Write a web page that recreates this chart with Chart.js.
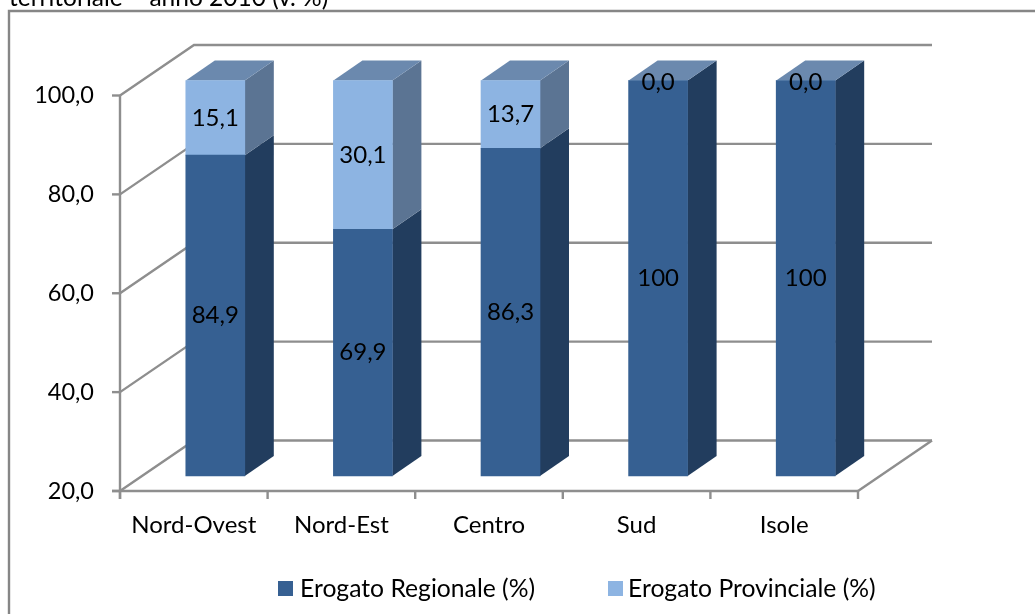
<!DOCTYPE html>
<html><head><meta charset="utf-8">
<style>html,body{margin:0;padding:0;background:#fff;overflow:hidden}canvas{display:block}
#wrap{position:relative;width:1035px;height:614px}</style>
<script src="https://cdn.jsdelivr.net/npm/chart.js@4"></script>
</head><body>
<div id="wrap"><canvas id="c" width="1035" height="614"></canvas></div>
<script>
const categories = ['Nord-Ovest','Nord-Est','Centro','Sud','Isole'];
const regionale = [84.9,69.9,86.3,100,100];
const provinciale = [15.1,30.1,13.7,0,0];
const regionaleLabels = ['84,9','69,9','86,3','100','100'];
const provincialeLabels = ['15,1','30,1','13,7','0,0','0,0'];
const seriesNames = ['Erogato Regionale (%)','Erogato Provinciale (%)'];
const titleText = 'territoriale – anno 2010 (v. %)';
const yTicks = [20,40,60,80,100];

const FONT = 'Lato';
const GRID = '#8e8e8e';
const DX = 21.5, DY = -15;        // front plane of the bars relative to the axis plane
const BX = 74, BY = -50.5;        // back wall relative to the axis plane
const SX = 29, SY = -20;          // bar depth
const faces = [
  {front:'#366092', side:'#223d5e', top:'#6b89ae'},
  {front:'#8db4e2', side:'#5b7493', top:'#6b89ae'}
];

const scene = {
  id:'scene',
  beforeDraw(chart){
    const {ctx, chartArea:a, scales:{x,y}} = chart;
    ctx.save();
    ctx.strokeStyle='#868686'; ctx.lineWidth=2.4;
    ctx.beginPath(); ctx.moveTo(9,616); ctx.lineTo(9,11); ctx.lineTo(1040,11); ctx.stroke();
    ctx.fillStyle='#000'; ctx.font='24.5px '+FONT; ctx.textBaseline='alphabetic'; ctx.textAlign='left';
    ctx.fillText(titleText,9,6);
    ctx.strokeStyle=GRID; ctx.lineWidth=2.4;
    yTicks.forEach(v=>{
      const py=y.getPixelForValue(v);
      ctx.beginPath();
      ctx.moveTo(a.left,py); ctx.lineTo(a.left+BX,py+BY);
      ctx.lineTo(a.right+BX,py+BY); ctx.stroke();
    });
    ctx.beginPath(); ctx.moveTo(a.right,a.bottom); ctx.lineTo(a.right+BX,a.bottom+BY); ctx.stroke();
    ctx.beginPath(); ctx.moveTo(a.left,y.getPixelForValue(100)); ctx.lineTo(a.left,a.bottom+8); ctx.stroke();
    ctx.beginPath(); ctx.moveTo(a.left-8,a.bottom); ctx.lineTo(a.right,a.bottom); ctx.stroke();
    yTicks.forEach(v=>{const py=y.getPixelForValue(v);
      ctx.beginPath(); ctx.moveTo(a.left-8,py); ctx.lineTo(a.left,py); ctx.stroke();});
    for(let i=0;i<=categories.length;i++){
      const px=a.left+(a.right-a.left)*i/categories.length;
      ctx.beginPath(); ctx.moveTo(px,a.bottom); ctx.lineTo(px,a.bottom+8); ctx.stroke();
    }
    ctx.restore();
  },
  beforeDatasetsDraw(chart){
    const {ctx}=chart;
    ctx.save();
    ctx.translate(DX,DY);
    chart.data.datasets.forEach((ds,di)=>{
      chart.getDatasetMeta(di).data.forEach((bar,i)=>{
        if(ds.data[i]===0) return;
        const p=bar.getProps(['x','y','base','width'],true);
        const r=p.x+p.width/2, f=faces[di];
        ctx.fillStyle=f.side;
        ctx.beginPath(); ctx.moveTo(r,p.y); ctx.lineTo(r+SX,p.y+SY);
        ctx.lineTo(r+SX,p.base+SY); ctx.lineTo(r,p.base); ctx.closePath(); ctx.fill();
      });
    });
    chart.data.datasets.forEach((ds,di)=>{
      chart.getDatasetMeta(di).data.forEach((bar,i)=>{
        const isTop = di===1 ? ds.data[i]>0 : chart.data.datasets[1].data[i]===0;
        if(!isTop) return;
        const p=bar.getProps(['x','y','width'],true);
        const r=p.x+p.width/2, l=p.x-p.width/2;
        ctx.fillStyle=faces[di].top;
        ctx.beginPath(); ctx.moveTo(l,p.y); ctx.lineTo(r,p.y);
        ctx.lineTo(r+SX,p.y+SY); ctx.lineTo(l+SX,p.y+SY); ctx.closePath(); ctx.fill();
      });
    });
  },
  afterDatasetsDraw(chart){
    const {ctx}=chart;
    ctx.restore();
    ctx.save();
    ctx.translate(DX,DY);
    ctx.fillStyle='#000'; ctx.font='24px '+FONT; ctx.textAlign='center'; ctx.textBaseline='middle';
    [regionaleLabels,provincialeLabels].forEach((labels,di)=>{
      chart.getDatasetMeta(di).data.forEach((bar,i)=>{
        const p=bar.getProps(['x','y','base'],true);
        const off = labels[i]==='0,0' ? 2 : 0;
        ctx.fillText(labels[i],p.x,(p.y+p.base)/2+off);
      });
    });
    ctx.restore();
    ctx.save();
    ctx.font='24.7px '+FONT; ctx.textBaseline='middle'; ctx.textAlign='left';
    [278,608].forEach((lx,i)=>{
      ctx.fillStyle=faces[i].front; ctx.fillRect(lx,581,15,15);
      ctx.fillStyle='#000'; ctx.fillText(seriesNames[i],lx+(i?20:22),589);
    });
    ctx.restore();
  }
};

new Chart(document.getElementById('c'),{
  type:'bar',
  data:{labels:categories,datasets:[
    {label:seriesNames[0],data:regionale,backgroundColor:faces[0].front,stack:'s',base:20},
    {label:seriesNames[1],data:provinciale,backgroundColor:faces[1].front,stack:'s'}
  ]},
  options:{
    responsive:false,animation:false,
    layout:{padding:{top:95.5,right:177,left:0,bottom:0}},
    datasets:{bar:{barThickness:59,clip:false}},
    plugins:{legend:{display:false},title:{display:false},tooltip:{enabled:false}},
    scales:{
      x:{stacked:true,offset:true,grid:{display:false},border:{display:false},
        ticks:{color:'#000',font:{family:FONT,size:24},padding:12,maxRotation:0},
        afterFit(s){s.height=614-491;}},
      y:{stacked:true,min:20,max:100,grid:{display:false},border:{display:false},
        afterBuildTicks(s){s.ticks=yTicks.map(v=>({value:v}));},
        ticks:{color:'#000',font:{family:FONT,size:23.5},padding:18,
          callback:v=>v.toFixed(1).replace('.',',')},
        afterFit(s){s.width=120;}}
    }
  },
  plugins:[scene]
});
</script></body></html>
